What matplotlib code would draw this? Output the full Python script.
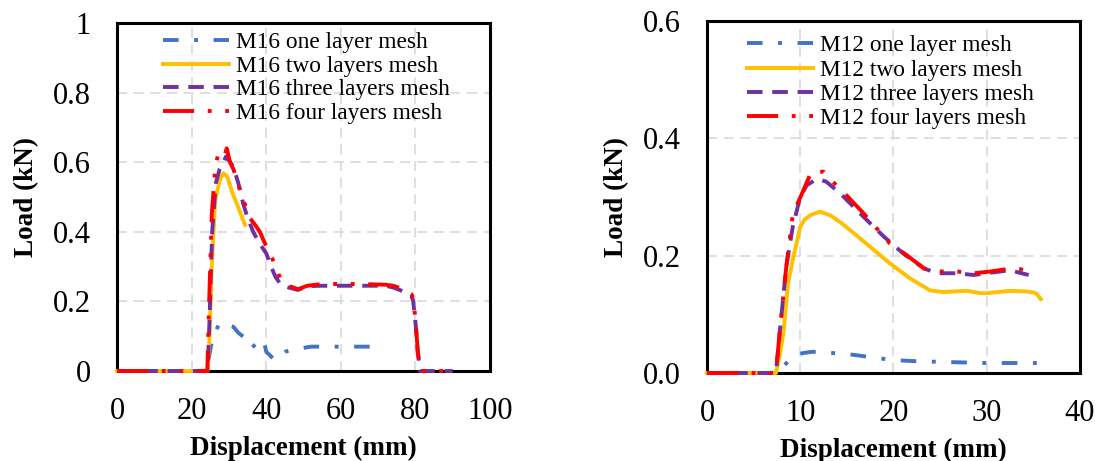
import matplotlib
matplotlib.use("Agg")
import matplotlib.pyplot as plt

plt.rcParams['font.family'] = ['Liberation Serif', 'DejaVu Serif']

# ---- M16 (left panel) ----
m16_one_x = [0, 23.8, 24.5, 25.5, 27.2, 28.5, 30, 31.2, 32.5, 33.8, 35, 36, 37.5, 39.3, 40,
             41, 42.2, 43.5, 45, 46.5, 48.5, 52, 60, 71.4]
m16_one_y = [0, 0, 0.03, 0.09, 0.132, 0.14, 0.13, 0.127, 0.11, 0.099, 0.08, 0.066, 0.08, 0.09, 0.055,
             0.045, 0.032, 0.045, 0.055, 0.06, 0.064, 0.07, 0.07, 0.07]

m16_two_x = [0, 24.3, 24.8, 25.4, 26.3, 27.6, 28.5, 29.5, 31, 32.5, 34.3]
m16_two_y = [0, 0, 0.1, 0.3, 0.49, 0.55, 0.568, 0.56, 0.51, 0.47, 0.42]

m16_three_x = [0, 24.3, 24.8, 25.5, 26.5, 27.5, 28.5, 29.2, 30, 31.2, 32.5, 33.8, 35, 36.5, 38, 40,
               41.3, 42.5, 44, 46, 48.5, 51.2, 55, 65, 72, 74, 76, 77.6, 79, 79.4, 80, 80.6, 81.2, 90]
m16_three_y = [0, 0, 0.15, 0.4, 0.54, 0.58, 0.6, 0.616, 0.605, 0.587, 0.54, 0.482, 0.44, 0.40, 0.37, 0.338,
               0.30, 0.27, 0.247, 0.24, 0.233, 0.244, 0.245, 0.245, 0.245, 0.24, 0.232, 0.225, 0.215, 0.20,
               0.14, 0.06, 0, 0]

m16_four_x = [0, 24.2, 24.7, 25.4, 26.3, 27.2, 28.1, 29, 29.4, 30.3, 31.2, 32.1, 33, 33.8, 34.7, 35.6,
              37, 38.3, 39.5, 41, 42.5, 44, 46, 48.5, 51, 55, 65, 72, 74, 76, 77.6, 79, 79.4, 80, 80.6,
              81.2, 90]
m16_four_y = [0, 0, 0.2, 0.45, 0.58, 0.63, 0.635, 0.625, 0.64, 0.6, 0.58, 0.55, 0.52, 0.49, 0.47, 0.44,
              0.42, 0.40, 0.37, 0.34, 0.30, 0.26, 0.245, 0.235, 0.245, 0.25, 0.25, 0.248, 0.245, 0.238,
              0.228, 0.22, 0.205, 0.15, 0.06, 0, 0]

# ---- M12 (right panel) ----
m12_one_x = [0, 7.6, 8.0, 8.5, 9.0, 9.6, 10.3, 11.2, 12.3, 13.5, 15.7, 18, 20, 22.5, 25, 27.5, 30, 33, 35.5]
m12_one_y = [0, 0, 0.008, 0.0165, 0.025, 0.031, 0.034, 0.036, 0.036, 0.034, 0.031, 0.026, 0.022, 0.020,
             0.019, 0.018, 0.017, 0.017, 0.017]

m12_two_x = [0, 7.4, 7.8, 8.2, 8.7, 9.3, 10, 10.5, 11.1, 12.1, 13.2, 14.3, 15.4, 17.5, 19.6, 21.8, 23.9,
             25.3, 26.5, 27.9, 29.3, 30, 31.2, 32.5, 34.3, 35.1, 35.4, 35.8]
m12_two_y = [0, 0, 0.03, 0.068, 0.153, 0.20, 0.249, 0.262, 0.269, 0.275, 0.269, 0.257, 0.243, 0.215, 0.187,
             0.161, 0.141, 0.138, 0.139, 0.14, 0.136, 0.136, 0.138, 0.14, 0.139, 0.137, 0.134, 0.126]

m12_three_x = [0, 7.4, 7.8, 8.5, 9.2, 10, 10.7, 11.8, 12.8, 14.3, 16.8, 19, 21.1, 23.3, 24.7, 26.8, 28.6,
               30.4, 32.5, 34.5]
m12_three_y = [0, 0, 0.068, 0.181, 0.249, 0.30, 0.32, 0.331, 0.326, 0.306, 0.266, 0.232, 0.203, 0.178,
               0.17, 0.17, 0.167, 0.171, 0.175, 0.167]

m12_four_x = [0, 7.4, 7.8, 8.5, 9.2, 10.3, 11.2, 12.5, 13.5, 14.6, 16.8, 19.6, 21.4, 23.3, 24.7, 26.8,
              28.6, 30.4, 32.1, 33.6, 34.5]
m12_four_y = [0, 0, 0.07, 0.18, 0.27, 0.31, 0.343, 0.343, 0.326, 0.309, 0.272, 0.221, 0.201, 0.178, 0.173,
              0.173, 0.17, 0.173, 0.177, 0.177, 0.173]

colors = ['#4472C4', '#FFC000', '#7030A0', '#FF0000']
styles = [(0, (4, 4, 1, 4)), '-', (0, (4, 2.5)), (0, (8, 3.5, 1, 3.5, 1, 3.5))]
lw = 2.8

fig = plt.figure(figsize=(11.01, 4.61), dpi=100)
ax1 = fig.add_axes([0.1063, 0.1952, 0.3388, 0.7549])
ax2 = fig.add_axes([0.6421, 0.1909, 0.3388, 0.7636])

left_series = [(m16_one_x, m16_one_y, 'M16 one layer mesh'),
               (m16_two_x, m16_two_y, 'M16 two layers mesh'),
               (m16_three_x, m16_three_y, 'M16 three layers mesh'),
               (m16_four_x, m16_four_y, 'M16 four layers mesh')]
right_series = [(m12_one_x, m12_one_y, 'M12 one layer mesh'),
                (m12_two_x, m12_two_y, 'M12 two layers mesh'),
                (m12_three_x, m12_three_y, 'M12 three layers mesh'),
                (m12_four_x, m12_four_y, 'M12 four layers mesh')]

for ax, series in [(ax1, left_series), (ax2, right_series)]:
    for (xs, ys, lab), c, ls in zip(series, colors, styles):
        ax.plot(xs, ys, color=c, linestyle=ls, lw=lw, label=lab, clip_on=False, zorder=5)

ax1.set_xlim(0, 100)
ax1.set_ylim(0, 1)
ax1.set_xticks([0, 20, 40, 60, 80, 100])
ax1.set_yticks([0, 0.2, 0.4, 0.6, 0.8, 1])
ax1.set_yticklabels(['0', '0.2', '0.4', '0.6', '0.8', '1'])

ax2.set_xlim(0, 40)
ax2.set_ylim(0, 0.6)
ax2.set_xticks([0, 10, 20, 30, 40])
ax2.set_yticks([0, 0.2, 0.4, 0.6])
ax2.set_yticklabels(['0.0', '0.2', '0.4', '0.6'])

for ax, lx, ly, lsp in [(ax1, 0.123, 0.975, 0.1), (ax2, 0.107, 0.96, 0.13)]:
    ax.grid(True, color='#D9D9D9', linestyle=(0, (6, 4)), lw=1.2)
    ax.set_axisbelow(True)
    for s in ax.spines.values():
        s.set_linewidth(2.2)
        s.set_color('black')
        s.set_zorder(4)
    ax.tick_params(axis='both', length=0, labelsize=22)
    ax.tick_params(axis='x', pad=19)
    ax.tick_params(axis='y', pad=19)
    ax.set_xlabel('Displacement (mm)', fontsize=19.5, fontweight='bold', labelpad=7)
    ax.set_ylabel('Load (kN)', fontsize=19.5, fontweight='bold', labelpad=10)
    ax.legend(loc='upper left', bbox_to_anchor=(lx, ly), frameon=False, fontsize=16.8,
              handlelength=2.85, handletextpad=0.28, labelspacing=lsp, borderpad=0,
              borderaxespad=0)

fig.savefig('out.png', dpi=100)
